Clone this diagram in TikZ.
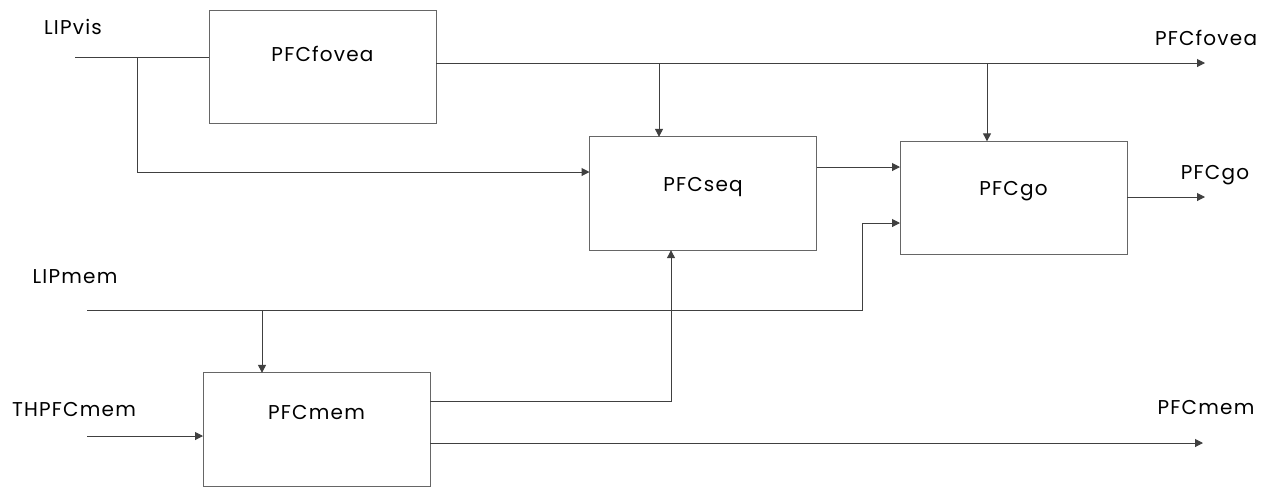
\documentclass[tikz,border=0pt]{standalone}
\usepackage{fontspec}
\setmainfont{Poppins}[LetterSpace=6]
\usetikzlibrary{arrows.meta, calc}

\begin{document}
\begin{tikzpicture}[
x=0.75pt, y=-0.75pt,
font=\fontsize{15}{17}\selectfont,
wire/.style={draw=black!75, line width=0.75pt},
flow/.style={wire, -{Triangle[length=6pt, width=6pt]}},
blk/.style={draw=black!60, line width=0.75pt, minimum width=170.25pt, minimum height=85pt, inner sep=0pt, outer sep=0pt},
sig/.style={inner sep=0pt}
]

\useasboundingbox (0,0) rectangle (1270,487);

% -------- Blocks --------
\node[blk, label={[anchor=center, yshift=-33pt]north:PFCfovea}] (fovea) at (322.5,67) {};
\node[blk, label={[anchor=center, yshift=-38pt]north:PFCseq}] (seq) at (703,193.5) {};
\node[blk, label={[anchor=center, yshift=-37pt]north:PFCgo}] (go) at (1013.5,198) {};
\node[blk, label={[anchor=center, yshift=-30pt]north:PFCmem}] (mem) at (316.5,429.5) {};

% -------- Signal names --------
\node[sig] (lipvis) at (73,27) {LIPvis};
\node[sig] (lipmem) at (75,277) {LIPmem};
\node[sig] (thpfc) at (74,410) {THPFCmem};
\node[sig] (outfovea) at (1206,38) {PFCfovea};
\node[sig] (outgo) at (1215,175) {PFCgo};
\node[sig] (outmem) at (1206,408) {PFCmem};

% -------- Wire points --------
\coordinate (visin) at (75,57);
\coordinate (visdown) at (137,172);
\coordinate (foveaend) at (1205,63);
\coordinate (tapseq) at (659,63);
\coordinate (tapgo) at (987,63);
\coordinate (seqgo) at (817,167);
\coordinate (goend) at (1205,197);
\coordinate (memin) at (87,310);
\coordinate (memup) at (862,223);
\coordinate (tapmem) at (262,310);
\coordinate (thin) at (87,436);
\coordinate (memseq) at (671,401);
\coordinate (memend) at (1203,443);

% -------- LIPvis --------
\draw[wire] (visin) -- (visin -| fovea.west);
\draw[flow] (visdown |- visin) -- (visdown) -- (visdown -| seq.west);

% -------- PFCfovea out --------
\draw[flow] (foveaend -| fovea.east) -- (foveaend);
\draw[flow] (tapseq) -- (tapseq |- seq.north);
\draw[flow] (tapgo) -- (tapgo |- go.north);

% -------- PFCseq / PFCgo --------
\draw[flow] (seqgo -| seq.east) -- (seqgo -| go.west);
\draw[flow] (goend -| go.east) -- (goend);

% -------- LIPmem --------
\draw[flow] (memin) -| (memup) -- (memup -| go.west);
\draw[flow] (tapmem) -- (tapmem |- mem.north);

% -------- PFCmem --------
\draw[flow] (thin) -- (thin -| mem.west);
\draw[flow] (memseq -| mem.east) -- (memseq) -- (memseq |- seq.south);
\draw[flow] (memend -| mem.east) -- (memend);

\end{tikzpicture}
\end{document}
